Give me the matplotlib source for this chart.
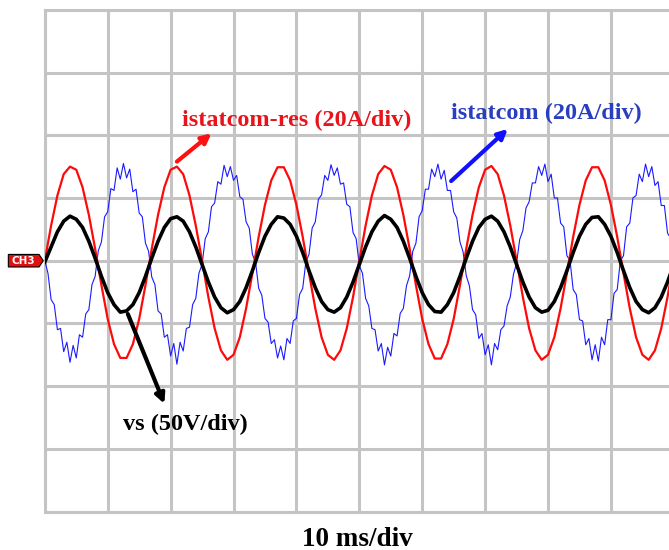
import numpy as np
import matplotlib.pyplot as plt
from matplotlib.patches import Polygon

# oscilloscope traces, values in divisions, read off the screen capture
# red / black sampled every 1 ms, blue every 0.5 ms (10 ms/div)
istatcom_res = [0.00, 0.56, 1.04, 1.38, 1.50, 1.45, 1.17, 0.73, 0.19, -0.39,
                -0.93, -1.33, -1.55, -1.55, -1.33, -0.93, -0.39, 0.19, 0.73, 1.17,
                1.45, 1.50, 1.38, 1.04, 0.56, 0.00, -0.58, -1.08, -1.43, -1.58,
                -1.50, -1.22, -0.76, -0.20, 0.38, 0.89, 1.28, 1.49, 1.49, 1.28,
                0.89, 0.38, -0.20, -0.76, -1.22, -1.50, -1.58, -1.43, -1.08, -0.58,
                0.00, 0.56, 1.04, 1.38, 1.51, 1.45, 1.17, 0.73, 0.19, -0.39,
                -0.93, -1.33, -1.56, -1.56, -1.33, -0.93, -0.39, 0.19, 0.73, 1.17,
                1.45, 1.51, 1.38, 1.04, 0.56, 0.00, -0.58, -1.08, -1.43, -1.58,
                -1.50, -1.22, -0.76, -0.20, 0.38, 0.89, 1.28, 1.49, 1.49, 1.28,
                0.89, 0.38, -0.20, -0.76, -1.22, -1.50, -1.58, -1.43, -1.08, -0.58,
                0.00]

vs = [-0.02, 0.22, 0.46, 0.63, 0.71, 0.66, 0.53, 0.31, 0.04, -0.25,
      -0.51, -0.70, -0.82, -0.80, -0.70, -0.51, -0.25, 0.04, 0.31, 0.53,
      0.67, 0.70, 0.63, 0.46, 0.22, -0.06, -0.34, -0.58, -0.75, -0.83,
      -0.78, -0.65, -0.43, -0.16, 0.13, 0.39, 0.58, 0.70, 0.68, 0.58,
      0.39, 0.13, -0.16, -0.43, -0.65, -0.78, -0.82, -0.75, -0.58, -0.34,
      -0.06, 0.22, 0.46, 0.63, 0.72, 0.66, 0.53, 0.31, 0.04, -0.25,
      -0.51, -0.70, -0.81, -0.82, -0.70, -0.51, -0.25, 0.04, 0.31, 0.53,
      0.66, 0.71, 0.63, 0.46, 0.22, -0.06, -0.34, -0.58, -0.75, -0.82,
      -0.79, -0.65, -0.43, -0.16, 0.13, 0.39, 0.58, 0.69, 0.70, 0.58,
      0.39, 0.13, -0.16, -0.43, -0.65, -0.78, -0.83, -0.75, -0.58, -0.34,
      -0.06]

istatcom = [0.00, -0.20, -0.62, -0.70, -1.10, -1.08, -1.45, -1.30, -1.62, -1.35,
            -1.55, -1.18, -1.22, -0.85, -0.78, -0.38, -0.25, 0.16, 0.30, 0.70,
            0.78, 1.15, 1.12, 1.48, 1.30, 1.55, 1.32, 1.46, 1.10, 1.14,
            0.76, 0.70, 0.28, 0.15, -0.26, -0.38, -0.80, -0.85, -1.22, -1.18,
            -1.52, -1.32, -1.65, -1.30, -1.44, -1.08, -1.06, -0.70, -0.60, -0.20,
            -0.06, 0.35, 0.46, 0.86, 0.92, 1.26, 1.22, 1.52, 1.34, 1.50,
            1.28, 1.36, 1.02, 0.98, 0.62, 0.52, 0.10, -0.02, -0.44, -0.55,
            -0.92, -0.98, -1.32, -1.26, -1.55, -1.36, -1.58, -1.24, -1.32, -0.96,
            -0.92, -0.54, -0.44, -0.02, 0.10, 0.52, 0.62, 0.98, 1.05, 1.36,
            1.28, 1.53, 1.36, 1.48, 1.22, 1.24, 0.90, 0.86, 0.45, 0.35,
            -0.08, -0.20, -0.60, -0.72, -1.08, -1.10, -1.44, -1.32, -1.66, -1.38,
            -1.52, -1.16, -1.20, -0.84, -0.76, -0.40, -0.24, 0.15, 0.28, 0.70,
            0.80, 1.14, 1.14, 1.46, 1.34, 1.54, 1.30, 1.44, 1.12, 1.12,
            0.78, 0.68, 0.30, 0.14, -0.24, -0.40, -0.78, -0.86, -1.24, -1.16,
            -1.50, -1.34, -1.66, -1.32, -1.42, -1.10, -1.04, -0.72, -0.58, -0.22,
            -0.04, 0.34, 0.48, 0.84, 0.94, 1.24, 1.24, 1.50, 1.36, 1.54,
            1.26, 1.38, 1.00, 1.00, 0.60, 0.54, 0.08, 0.00, -0.46, -0.54,
            -0.94, -0.96, -1.34, -1.24, -1.58, -1.34, -1.60, -1.22, -1.34, -0.94,
            -0.94, -0.52, -0.46, 0.00, 0.08, 0.54, 0.60, 1.00, 1.04, 1.38,
            1.26, 1.54, 1.34, 1.50, 1.20, 1.26, 0.88, 0.88, 0.44, 0.36,
            -0.06]

t_slow = np.arange(len(istatcom_res)) * 1.0   # ms
t_fast = np.arange(len(istatcom)) * 0.5       # ms

GRID = "#c4c4c4"
serif = "Liberation Serif"

fig = plt.figure(figsize=(6.69, 5.5), dpi=100)
ax = fig.add_axes([0.067, 0.0698, 0.9402, 0.9124])

ax.plot(t_fast, istatcom, color="#1a1aff", lw=0.8, zorder=3)
ax.plot(t_slow, istatcom_res, color="#ff0a0a", lw=1.6, zorder=4)
ax.plot(t_slow, vs, color="black", lw=2.6, zorder=5)

ax.set_xlim(0, 100)
ax.set_ylim(-4, 4)
ax.set_xticks(np.arange(0, 101, 10))
ax.set_yticks(np.arange(-4, 5, 1))
ax.tick_params(length=0, labelbottom=False, labelleft=False)
ax.grid(True, color=GRID, lw=2.2, zorder=0)
for s in ax.spines.values():
    s.set_color(GRID)
    s.set_linewidth(2.2)
ax.spines["right"].set_visible(False)

# labels and arrows
ax.text(21.8, 2.24, "istatcom-res (20A/div)", color="#e8141c", fontsize=17.5,
        fontweight="bold", family=serif, va="center", ha="left")
ax.annotate("", xy=(26.5, 2.03), xytext=(21.0, 1.58),
            arrowprops=dict(arrowstyle="-|>", color="#ff1010", lw=3, mutation_scale=14,
                            shrinkA=0, shrinkB=0), zorder=6)

ax.text(64.6, 2.34, "istatcom (20A/div)", color="#2a3fbf", fontsize=17.5,
        fontweight="bold", family=serif, va="center", ha="left")
ax.annotate("", xy=(73.6, 2.10), xytext=(64.6, 1.27),
            arrowprops=dict(arrowstyle="-|>", color="#1010ff", lw=3, mutation_scale=14,
                            shrinkA=0, shrinkB=0), zorder=6)

ax.text(12.4, -2.61, "vs (50V/div)", color="black", fontsize=17.5,
        fontweight="bold", family=serif, va="center", ha="left")
ax.annotate("", xy=(19.0, -2.28), xytext=(13.2, -0.85),
            arrowprops=dict(arrowstyle="-|>", color="black", lw=3, mutation_scale=14,
                            shrinkA=0, shrinkB=0), zorder=6)

fig.text(0.534, 0.02, "10 ms/div", fontsize=19.5, fontweight="bold", family=serif,
         ha="center", va="center")

# channel marker left of the screen
marker = Polygon([(-5.8, 0.10), (-0.92, 0.10), (-0.24, 0.0), (-0.92, -0.10), (-5.8, -0.10)],
                 closed=True, facecolor="#e01010", edgecolor="black", lw=0.8,
                 clip_on=False, zorder=7)
ax.add_patch(marker)
ax.text(-3.4, 0.0, "CH3", color="white", fontsize=7.5, fontweight="bold",
        ha="center", va="center", clip_on=False, zorder=8)

fig.savefig("out.png", dpi=100)
